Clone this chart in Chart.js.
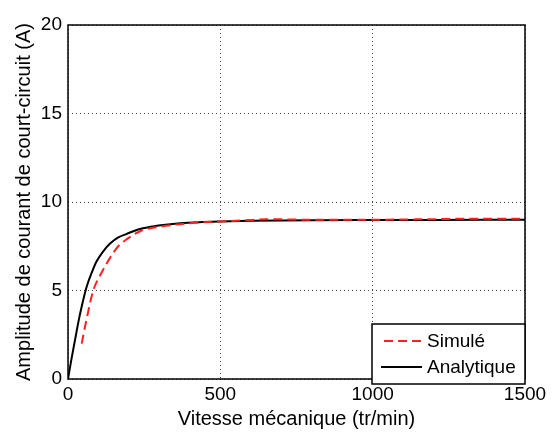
<!DOCTYPE html>
<html>
<head>
<meta charset="utf-8">
<script src="https://cdn.jsdelivr.net/npm/chart.js@4"></script>
<style>
  body { margin: 0; background: #fff; }
  #wrap { width: 559px; height: 435px; }
</style>
</head>
<body>
<div id="wrap"><canvas id="graphique"></canvas></div>
<script>
// Données
const vitesseAnalytique = [0, 10, 23, 35, 45, 61, 80, 94, 115, 138, 165, 193, 230, 270, 320, 368, 430, 500, 600, 700, 800, 1000, 1200, 1500];
const courantAnalytique = [0, 1.0, 2.2, 3.3, 4.1, 5.2, 6.1, 6.65, 7.2, 7.65, 8.0, 8.2, 8.45, 8.6, 8.72, 8.8, 8.86, 8.9, 8.94, 8.96, 8.97, 8.98, 8.99, 9.0];

const vitesseSimule = [45, 60, 83, 110, 140, 165, 193, 237, 300, 400, 500, 600, 650, 700, 800, 1000, 1200, 1300, 1500];
const courantSimule = [2.0, 3.3, 5.0, 6.0, 6.9, 7.5, 7.9, 8.35, 8.6, 8.8, 8.9, 8.98, 9.03, 9.02, 9.0, 9.0, 9.03, 9.05, 9.05];

const ticksX = [0, 500, 1000, 1500];
const ticksY = [0, 5, 10, 15, 20];

const police = "'Liberation Sans', Arial, sans-serif";

// Cadre + légende façon MATLAB
const cadre = {
    id: 'cadre',
    afterDatasetsDraw(chart) {
        const { ctx, chartArea: a } = chart;
        ctx.save();
        ctx.strokeStyle = '#000';
        ctx.lineWidth = 1.5;
        ctx.strokeRect(a.left, a.top, a.right - a.left, a.bottom - a.top);

        // légende en bas à droite
        const w = 153, h = 60;
        const x = a.right - w, y = a.bottom + 5 - h;
        ctx.fillStyle = '#fff';
        ctx.fillRect(x, y, w, h);
        ctx.lineWidth = 1.5;
        ctx.strokeRect(x, y, w, h);
        ctx.font = '19px ' + police;
        ctx.textBaseline = 'middle';
        chart.data.datasets.forEach((ds, i) => {
            const ly = y + 17 + i * 26;
            ctx.beginPath();
            ctx.strokeStyle = ds.borderColor;
            ctx.lineWidth = 1.8;
            ctx.setLineDash(ds.borderDash || []);
            ctx.moveTo(x + (ds.borderDash ? 12 : 9), ly);
            ctx.lineTo(x + 50, ly);
            ctx.stroke();
            ctx.setLineDash([]);
            ctx.fillStyle = '#000';
            ctx.fillText(ds.label, x + 55, ly + 1);
        });
        ctx.restore();
    }
};

new Chart(document.querySelector('#graphique'), {
    type: 'line',
    data: {
        datasets: [
            {
                label: 'Simulé',
                data: vitesseSimule.map((v, i) => ({ x: v, y: courantSimule[i] })),
                borderColor: '#ff2020',
                borderWidth: 2,
                borderDash: [9, 5],
                pointRadius: 0,
                cubicInterpolationMode: 'monotone'
            },
            {
                label: 'Analytique',
                data: vitesseAnalytique.map((v, i) => ({ x: v, y: courantAnalytique[i] })),
                borderColor: '#000',
                borderWidth: 2,
                pointRadius: 0,
                cubicInterpolationMode: 'monotone'
            }
        ]
    },
    options: {
        responsive: true,
        maintainAspectRatio: false,
        animation: false,
        layout: { padding: { top: 25, right: 34, left: 0, bottom: 0 } },
        plugins: { legend: { display: false }, tooltip: { enabled: false } },
        scales: {
            x: {
                type: 'linear',
                min: 0, max: 1500,
                afterBuildTicks: s => { s.ticks = ticksX.map(v => ({ value: v })); },
                afterFit: s => { s.height = 56; },
                grid: { color: '#444', lineWidth: 1, drawTicks: false },
                border: { display: false, dash: [1, 3] },
                ticks: { color: '#000', font: { family: police, size: 19 }, padding: 4, maxRotation: 0, callback: v => v },
                title: { display: true, text: 'Vitesse mécanique (tr/min)', color: '#000', font: { family: police, size: 20 }, padding: { top: 0 } }
            },
            y: {
                min: 0, max: 20,
                afterBuildTicks: s => { s.ticks = ticksY.map(v => ({ value: v })); },
                afterFit: s => { s.width = 68; },
                grid: { color: '#444', lineWidth: 1, drawTicks: false },
                border: { display: false, dash: [1, 3] },
                ticks: { color: '#000', font: { family: police, size: 19 }, padding: 6, callback: v => v },
                title: { display: true, text: 'Amplitude de courant de court-circuit (A)', color: '#000', font: { family: police, size: 20 }, padding: { top: 12, bottom: 2 } }
            }
        }
    },
    plugins: [cadre]
});
</script>
</body>
</html>
